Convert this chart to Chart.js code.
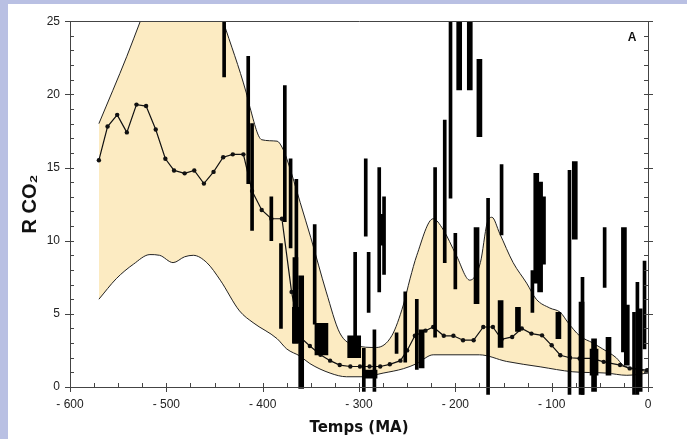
<!DOCTYPE html>
<html>
<head>
<meta charset="utf-8">
<script src="https://cdn.jsdelivr.net/npm/chart.js@4"></script>
<style>
body{margin:0;background:#b9c0e3;width:687px;height:439px;overflow:hidden;}
#box{position:absolute;left:8px;top:4px;width:679px;height:435px;background:#fff;}
</style>
</head>
<body>
<div id="box"><canvas id="co2Chart" width="679" height="435"></canvas></div>
<script>
// R CO2 over the Phanerozoic (age in MA, negative = past)

const xTickLabels = ["- 600","- 500","- 400","- 300","- 200","- 100","0"];
const yTickLabels = ["0","5","10","15","20","25"];

// upper and lower bounds of the shaded band
const upperBound = [[-570,18.0],[-541,22.6],[-527,25.0],[-500,29.5],[-470,31],[-441,25.0],[-417,20.1],[-414,19.3],[-401,16.9],[-385,16.8],[-380,16.4],[-375,15.6],[-365,13.5],[-361,12.6],[-350,10.2],[-334,6.5],[-320,3.7],[-304,2.85],[-282,2.7],[-266,3.5],[-254,5.6],[-247,7.4],[-240,9.0],[-223,11.5],[-213,10.8],[-199,9.0],[-185,7.3],[-174,8.5],[-167,11.2],[-162,11.6],[-154,10.5],[-140,8.5],[-126,7.1],[-116,6.0],[-102,5.4],[-91,5.1],[-83,4.4],[-71,3.5],[-57,3.0],[-47,2.6],[-33,2.0],[-26,1.5],[-8,1.2],[-1,1.0]];

const lowerBound = [[-570,6.0],[-552,7.4],[-534,8.4],[-517,9.05],[-507,9.0],[-493,8.5],[-481,8.9],[-472,9.0],[-458,8.5],[-444,7.3],[-424,5.2],[-410,4.4],[-385,3.3],[-375,2.6],[-361,2.1],[-351,1.6],[-330,0.95],[-313,0.7],[-296,0.7],[-275,0.95],[-254,1.25],[-240,1.6],[-223,2.2],[-175,2.2],[-147,1.75],[-112,1.38],[-78,1.04],[-43,0.95],[-22,0.8],[0,0.95]];

// best estimate (dotted line)
const meanRco2 = [[-570,15.5],[-561,17.8],[-551,18.6],[-541,17.4],[-531,19.3],[-521,19.2],[-511,17.6],[-501,15.6],[-492,14.8],[-481,14.6],[-471,14.8],[-461,13.9],[-451,14.7],[-441,15.7],[-431,15.9],[-420,15.9],[-411,13.4],[-401,12.1],[-391,11.5],[-380,11.5],[-370,6.5],[-361,3.4],[-351,2.8],[-340,2.2],[-330,1.8],[-320,1.5],[-309,1.4],[-299,1.4],[-289,1.4],[-278,1.4],[-268,1.55],[-257,1.8],[-250,2.5],[-242,3.5],[-231,3.85],[-223,4.1],[-212,3.5],[-202,3.5],[-192,3.2],[-181,3.2],[-171,4.1],[-161,4.1],[-152,3.26],[-141,3.42],[-131,4.0],[-121,3.65],[-110,3.53],[-100,2.85],[-91,2.17],[-81,2.0],[-71,1.95],[-58,1.95],[-46,1.72],[-29,1.5],[-19,1.27],[-1,1.15]];

// proxy ranges [age, low, high]
const thinBars = [[-440,21.2,26],[-415,13.9,22.6],[-411,10.7,18.0],[-391,10.0,13.0],[-381,4.0,9.8],[-377,11.3,20.6],[-371,9.5,15.6],[-365,6.7,14.2],[-346,4.3,11.1],[-304,2.0,9.2],[-295,-0.3,2.65],[-293,10.3,15.6],[-290,5.1,9.2],[-284,-0.3,3.9],[-279,6.5,15.0],[-274,7.7,13.0],[-261,2.3,3.7],[-252,1.7,6.5],[-240,1.2,6.0],[-221,3.4,15.0],[-211,8.5,18.25],[-205,12.9,26],[-200,6.7,10.5],[-166,-0.5,12.9],[-152,10.4,15.2],[-120,5.1,7.95],[-81.5,-0.5,14.8],[-68,-0.5,7.5],[-45,6.8,10.9],[-14.5,-0.5,5.1],[-11,-0.5,7.15],[-7.6,-0.3,5.35],[-3.6,2.6,8.6]];
const wideBars = [[-366,3.0,8.85],[-360,-0.1,7.6],[-276,9.7,11.8],[-235,1.3,3.9],[-196,20.3,26],[-185,20.3,26],[-175,17.1,22.4],[-178,5.7,10.9],[-153,2.7,5.9],[-135,3.8,5.45],[-116,7.1,14.6],[-112,6.5,14.0],[-109,8.4,13.0],[-93,3.3,5.1],[-76,10.1,15.4],[-69,-0.5,5.8],[-56,-0.3,3.3],[-41,0.8,3.4],[-25,2.4,10.9],[-22,1.5,5.6]];
const smallBoxes = [[-365,3.0,5.45],[-56,0.8,2.6]];
const bigBoxes = [[-339,2.2,4.35],[-305,2.0,3.5],[-288,0.6,1.15]];

function toPoints(arr){
return arr.map(p => ({x:p[0], y:p[1]}));
}
function toRanges(arr){
return arr.map(b => ({x:b[0], y:[b[1], b[2]]}));
}
function barSet(arr, w){
return {type:'bar', data:toRanges(arr), backgroundColor:'#000', borderWidth:0,
barThickness:w, grouped:false, clip:{left:4,right:4,top:0,bottom:10}};
}

const frameTicks = {
id:'frameTicks',
afterDatasetsDraw(chart){
const {ctx, chartArea:a, scales:{x, y}} = chart;
ctx.save();
ctx.strokeStyle = '#444';
ctx.lineWidth = 1;
ctx.beginPath();
ctx.rect(Math.round(a.left)+0.5, Math.round(a.top)+0.5, Math.round(a.right-a.left), Math.round(a.bottom-a.top));
for(let v=0; v<=25; v++){
const py = Math.round(y.getPixelForValue(v))+0.5;
const major = v%5===0;
ctx.moveTo(a.left-(major?5:0), py); ctx.lineTo(a.left+4, py);
ctx.moveTo(a.right-4, py); ctx.lineTo(a.right+(major?5:0), py);
}
for(let v=-600; v<=0; v+=25){
const px = Math.round(x.getPixelForValue(v))+0.5;
const major = v%100===0;
ctx.moveTo(px, a.bottom+(major?5:0)); ctx.lineTo(px, a.bottom-4);
}
ctx.stroke();
ctx.fillStyle = '#111';
ctx.font = 'bold 12px "Liberation Sans"';
ctx.textAlign = 'center';
ctx.textBaseline = 'middle';
ctx.fillText('A', a.right-16, a.top+16);
ctx.restore();
}
};

new Chart(document.getElementById('co2Chart'),{
type:'line',
data:{
datasets:[
barSet(thinBars, 3),
barSet(wideBars, 5),
barSet(smallBoxes, 8),
barSet(bigBoxes, 13),
{data:toPoints(meanRco2), borderColor:'#111', borderWidth:1.2, pointRadius:2.2,
pointBackgroundColor:'#111', pointBorderWidth:0, tension:0, clip:0},
{data:toPoints(lowerBound), borderColor:'#222', borderWidth:1, pointRadius:0,
cubicInterpolationMode:'monotone', clip:0},
{data:toPoints(upperBound), borderColor:'#222', borderWidth:1, pointRadius:0,
cubicInterpolationMode:'monotone', clip:0,
fill:'-1', backgroundColor:'#fcebc2'}
]
},
options:{
responsive:false,
animation:false,
layout:{padding:{top:15, right:39, bottom:0, left:0}},
plugins:{
legend:{display:false},
tooltip:{enabled:false},
filler:{drawTime:'beforeDatasetsDraw'}
},
scales:{
x:{
type:'linear', min:-600, max:0, offset:false,
grid:{display:false, drawTicks:false}, border:{display:false},
afterFit:function(s){ s.height = 52; },
ticks:{stepSize:100, padding:10, color:'#222', maxRotation:0,
font:{family:'Liberation Sans', size:12},
callback:function(v){ return xTickLabels[(v+600)/100]; }},
title:{display:true, text:'Temps (MA)', color:'#111', padding:{top:0, bottom:2},
font:{family:'DejaVu Sans', size:15, weight:'bold'}}
},
y:{
min:0, max:25,
grid:{display:false, drawTicks:false}, border:{display:false},
afterFit:function(s){ s.width = 62; },
ticks:{stepSize:5, padding:10, color:'#222',
font:{family:'Liberation Sans', size:12},
callback:function(v){ return yTickLabels[v/5]; }},
title:{display:true, text:'R CO₂', color:'#111', padding:{top:10, bottom:0},
font:{family:'Liberation Sans', size:20, weight:'bold'}}
}
}
},
plugins:[frameTicks]
});
</script>
</body>
</html>
